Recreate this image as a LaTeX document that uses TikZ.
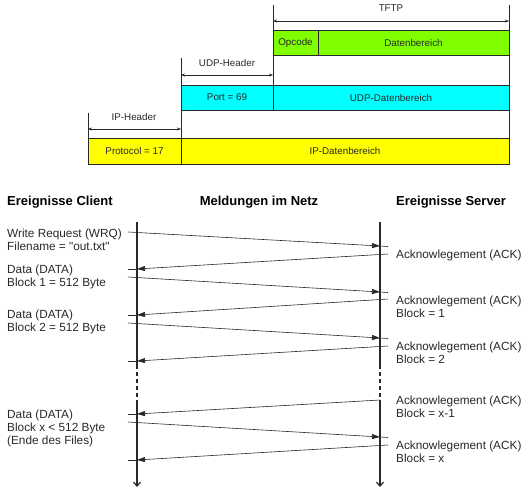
\documentclass[tikz,border=0pt]{standalone}
\usepackage{fontspec}
\setmainfont{Liberation Sans}[Ligatures=TeXOff]
\usetikzlibrary{arrows.meta,backgrounds}
\definecolor{tftpgreen}{RGB}{128,255,0}
\definecolor{udpcyan}{RGB}{0,255,255}
\definecolor{ipyellow}{RGB}{255,255,0}
\definecolor{ink}{RGB}{40,40,40}
\begin{document}
\begin{tikzpicture}[x=1pt,y=-1pt,
  field/.style={draw=ink, line width=0.9pt, minimum height=25pt, inner sep=0pt, outer sep=0pt,
                anchor=north west, text=ink, font=\fontsize{9.8}{11}\selectfont},
  dimline/.style={draw=ink, line width=0.6pt},
  dimarrow/.style={draw=ink, line width=0.6pt, {Stealth[length=4pt,width=3pt]}-{Stealth[length=4pt,width=3pt]}},
  dimlabel/.style={text=ink, font=\fontsize{9.8}{11}\selectfont, inner sep=0pt},
  lbl/.style={text=ink, font=\fontsize{11.8}{13}\selectfont, align=left, anchor=west, inner sep=0pt},
  head/.style={text=black, font=\fontsize{13}{15}\selectfont\bfseries, inner sep=0pt},
  timeline/.style={draw=ink, line width=1.2pt},
  msg/.style={draw=ink, line width=0.6pt, -{Triangle[length=8pt,width=5pt]}},
  stub/.style={draw=ink, line width=0.6pt}]
\useasboundingbox (0,0) rectangle (523,488);

% ---------- protocol stack ----------
\node[field, fill=tftpgreen, minimum width=45pt]  (opc)  at (273,30)  {Opcode};
\node[field, fill=tftpgreen, minimum width=191pt] (tdat) at (318,30)  {Datenbereich};
\node[field, fill=udpcyan,   minimum width=92pt]  (port) at (181,85)  {Port = 69};
\node[field, fill=udpcyan,   minimum width=236pt] (udat) at (273,85)  {UDP-Datenbereich};
\node[field, fill=ipyellow,  minimum width=93pt, minimum height=26pt]  (prot) at (88,138) {Protocol = 17};
\node[field, fill=ipyellow,  minimum width=328pt, minimum height=26pt] (idat) at (181,138) {IP-Datenbereich};

\coordinate (tftpL) at (273,5);
\coordinate (tftpR) at (509,5);
\coordinate (udpL)  at (181,58);
\coordinate (ipL)   at (88,113);

\begin{scope}[on background layer]
  \draw[dimline] (tftpL) -- (opc.north west);
  \draw[dimline] (tftpR) -- (idat.north east);
  \draw[dimline] (udpL) -- (port.north west);
  \draw[dimline] (opc.south west) -- (udat.north west);
  \draw[dimline] (ipL) -- (prot.north west);
  \draw[dimline] (port.south west) -- (idat.north west);
\end{scope}

\draw[dimarrow] (273,21) -- (509,21);
\node[dimlabel] (tftplbl) at (391,8) {TFTP};
\draw[dimarrow] (181,75) -- (273,75);
\node[dimlabel] (udplbl) at (227,63) {UDP-Header};
\draw[dimarrow] (88,129) -- (181,129);
\node[dimlabel] (iplbl) at (134,117) {IP-Header};

% ---------- headings ----------
\node[head, anchor=west] (hc) at (7,202) {Ereignisse Client};
\node[head] (hn) at (259,202) {Meldungen im Netz};
\node[head, anchor=west] (hs) at (396,202) {Ereignisse Server};

% ---------- timelines ----------
\coordinate (c0) at (137,222); \coordinate (c1) at (137,365);
\coordinate (c2) at (137,401); \coordinate (c3) at (137,487);
\coordinate (s0) at (380,222); \coordinate (s1) at (380,365);
\coordinate (s2) at (380,401); \coordinate (s3) at (380,487);
\draw[timeline] (c0) -- (c1);
\draw[timeline, line width=1.1pt, dash pattern=on 4pt off 3pt] (c1) -- (c2);
\draw[timeline, -{Straight Barb[length=4pt,width=7pt]}] (c2) -- (c3);
\draw[timeline] (s0) -- (s1);
\draw[timeline, line width=1.1pt, dash pattern=on 4pt off 3pt] (s1) -- (s2);
\draw[timeline, -{Straight Barb[length=4pt,width=7pt]}] (s2) -- (s3);

% ---------- messages client -> server ----------
\coordinate (w0) at (128,232); \coordinate (w1) at (380,246); \coordinate (w2) at (388,246.5);
\coordinate (d10) at (128,277); \coordinate (d11) at (380,292); \coordinate (d12) at (388,292.5);
\coordinate (d20) at (128,323); \coordinate (d21) at (380,338); \coordinate (d22) at (388,338.5);
\coordinate (dx0) at (128,422); \coordinate (dx1) at (380,437); \coordinate (dx2) at (388,437.5);
\draw[msg] (w0) -- (w1);   \draw[stub] (w1) -- (w2);
\draw[msg] (d10) -- (d11); \draw[stub] (d11) -- (d12);
\draw[msg] (d20) -- (d21); \draw[stub] (d21) -- (d22);
\draw[msg] (dx0) -- (dx1); \draw[stub] (dx1) -- (dx2);

% ---------- messages server -> client ----------
\coordinate (a00) at (388,254); \coordinate (a01) at (137,269); \coordinate (a02) at (128,269);
\coordinate (a10) at (388,299); \coordinate (a11) at (137,315); \coordinate (a12) at (128,315);
\coordinate (a20) at (388,346); \coordinate (a21) at (137,361); \coordinate (a22) at (128,361);
\coordinate (a30) at (380,400); \coordinate (a31) at (137,414); \coordinate (a32) at (128,414);
\coordinate (a40) at (388,445); \coordinate (a41) at (137,460); \coordinate (a42) at (128,460);
\draw[msg] (a00) -- (a01); \draw[stub] (a01) -- (a02);
\draw[msg] (a10) -- (a11); \draw[stub] (a11) -- (a12);
\draw[msg] (a20) -- (a21); \draw[stub] (a21) -- (a22);
\draw[msg] (a30) -- (a31); \draw[stub] (a31) -- (a32);
\draw[msg] (a40) -- (a41); \draw[stub] (a41) -- (a42);

% ---------- client labels ----------
\node[lbl] (lw)  at (7,239.5) {Write Request (WRQ)\\Filename = "out.txt"};
\node[lbl] (ld1) at (7,276.5) {Data (DATA)\\Block 1 = 512 Byte};
\node[lbl] (ld2) at (7,322)   {Data (DATA)\\Block 2 = 512 Byte};
\node[lbl] (ldx) at (7,428)   {Data (DATA)\\Block x < 512 Byte\\(Ende des Files)};

% ---------- server labels ----------
\node[lbl] (la0) at (396,255) {Acknowlegement (ACK)};
\node[lbl] (la1) at (396,307) {Acknowlegement (ACK)\\Block = 1};
\node[lbl] (la2) at (396,353) {Acknowlegement (ACK)\\Block = 2};
\node[lbl] (la3) at (396,407) {Acknowlegement (ACK)\\Block = x-1};
\node[lbl] (la4) at (396,452) {Acknowlegement (ACK)\\Block = x};
\end{tikzpicture}
\end{document}
